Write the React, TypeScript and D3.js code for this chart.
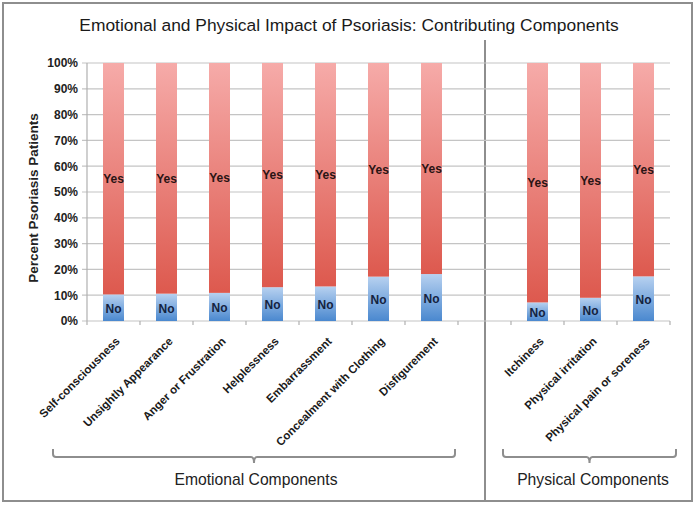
import React from "react";
import * as d3 from "d3";

const title = "Emotional and Physical Impact of Psoriasis: Contributing Components";
const yAxisTitle = "Percent Psoriasis Patients";
const emotionalCategories = [
  "Self-consciousness",
  "Unsightly Appearance",
  "Anger or Frustration",
  "Helplessness",
  "Embarrassment",
  "Concealment with Clothing",
  "Disfigurement",
];
const physicalCategories = ["Itchiness", "Physical irritation", "Physical pain or soreness"];
const emotionalNo = [10.3, 10.6, 10.9, 13.1, 13.4, 17.2, 18.2];
const physicalNo = [7.2, 9.0, 17.3];
const yTicks = [0, 10, 20, 30, 40, 50, 60, 70, 80, 90, 100];
const groupLabels = ["Emotional Components", "Physical Components"];
const GAP = "__gap__";

const FONT = "'Liberation Sans', Arial, Helvetica, sans-serif";

export default function App() {
  const W = 698;
  const H = 509;
  const x0 = 87;
  const x1 = 670;
  const yBottom = 321;
  const yTop = 63;

  const domain = [...emotionalCategories, GAP, ...physicalCategories];
  const x = d3.scaleBand<string>().domain(domain).range([x0, x1]).paddingInner(0).paddingOuter(0);
  const y = d3.scaleLinear().domain([0, 100]).range([yBottom, yTop]);
  const barW = 21;

  const rows = [
    ...emotionalCategories.map((c, i) => ({ cat: c, no: emotionalNo[i] })),
    ...physicalCategories.map((c, i) => ({ cat: c, no: physicalNo[i] })),
  ];
  const stack = d3.stack<any>().keys(["no", "yes"])(
    rows.map((r) => ({ cat: r.cat, no: r.no, yes: 100 - r.no }))
  );

  const boundaries = d3.range(domain.length + 1).map((i) => x0 + i * x.bandwidth());

  const bracket = (a: number, b: number, yy: number) => {
    const m = (a + b) / 2;
    const r = 3;
    return `M${a},${yy - 8} L${a},${yy - r} Q${a},${yy} ${a + r},${yy} L${m - r},${yy} Q${m},${yy} ${m},${yy + 6} Q${m},${yy} ${m + r},${yy} L${b - r},${yy} Q${b},${yy} ${b},${yy - r} L${b},${yy - 8}`;
  };

  return (
    <svg width={W} height={H} style={{ position: "absolute", left: 0, top: 0, background: "#fff" }} fontFamily={FONT}>
      <defs>
        <linearGradient id="gYes" x1="0" y1="0" x2="0" y2="1">
          <stop offset="0" stopColor="#f6aba9" />
          <stop offset="1" stopColor="#dd594e" />
        </linearGradient>
        <linearGradient id="gNo" x1="0" y1="0" x2="0" y2="1">
          <stop offset="0" stopColor="#b7d1f0" />
          <stop offset="1" stopColor="#4a88cf" />
        </linearGradient>
      </defs>
      <rect x={0} y={0} width={W} height={H} fill="#fff" />
      <rect x={3} y={3} width={689} height={498} fill="#fff" stroke="#8e8e8e" strokeWidth={2} />
      <line x1={485} x2={485} y1={40} y2={501} stroke="#8e8e8e" strokeWidth={2} />

      <text x={349} y={31} textAnchor="middle" fontSize={17.4} fill="#1a1a1a">
        {title}
      </text>

      {/* gridlines */}
      {yTicks.map((t) => (
        <line key={"g" + t} x1={x0 - 5} x2={x1} y1={y(t)} y2={y(t)} stroke="#c4c4c4" strokeWidth={1.2} />
      ))}
      <line x1={x0} x2={x0} y1={yTop} y2={yBottom} stroke="#b0b0b0" strokeWidth={1.2} />
      {boundaries.map((b, i) => (
        <line key={"t" + i} x1={b} x2={b} y1={yBottom} y2={yBottom + 4} stroke="#b0b0b0" strokeWidth={1.2} />
      ))}
      {yTicks.map((t) => (
        <text key={"yl" + t} x={78} y={y(t)} dy="0.36em" textAnchor="end" fontSize={12} fontWeight="bold" fill="#222">
          {t + "%"}
        </text>
      ))}
      <text
        transform={`translate(38,${(yTop + yBottom) / 2 + 6}) rotate(-90)`}
        textAnchor="middle"
        fontSize={13.5}
        fontWeight="bold"
        fill="#222"
      >
        {yAxisTitle}
      </text>

      {/* bars */}
      {stack.map((s) =>
        s.map((d: any) => {
          const cat = d.data.cat;
          const cx = (x(cat) as number) + x.bandwidth() / 2;
          const top = y(d[1]);
          const bot = y(d[0]);
          return (
            <g key={s.key + cat}>
              <rect
                x={cx - barW / 2}
                y={top}
                width={barW}
                height={bot - top}
                fill={s.key === "yes" ? "url(#gYes)" : "url(#gNo)"}
              />
              <text
                x={cx}
                y={(top + bot) / 2 + (s.key === "no" ? 1 : 0)}
                dy="0.36em"
                textAnchor="middle"
                fontSize={12}
                fontWeight="bold"
                fill={s.key === "yes" ? "#2a1414" : "#14233f"}
              >
                {s.key === "yes" ? "Yes" : "No"}
              </text>
            </g>
          );
        })
      )}

      {/* category labels */}
      {rows.map((r) => {
        const cx = (x(r.cat) as number) + x.bandwidth() / 2;
        return (
          <text
            key={"cl" + r.cat}
            transform={`translate(${cx + 7},${342}) rotate(-45)`}
            textAnchor="end"
            fontSize={11.5}
            fontWeight="bold"
            fill="#1a1a1a"
          >
            {r.cat}
          </text>
        );
      })}

      {/* brackets */}
      <path d={bracket(53, 455, 457)} fill="none" stroke="#8e8e8e" strokeWidth={2} />
      <path d={bracket(503, 676, 457)} fill="none" stroke="#8e8e8e" strokeWidth={2} />
      <text x={256} y={485} textAnchor="middle" fontSize={15.7} fill="#222">
        {groupLabels[0]}
      </text>
      <text x={593} y={485} textAnchor="middle" fontSize={15.7} fill="#222">
        {groupLabels[1]}
      </text>
    </svg>
  );
}
